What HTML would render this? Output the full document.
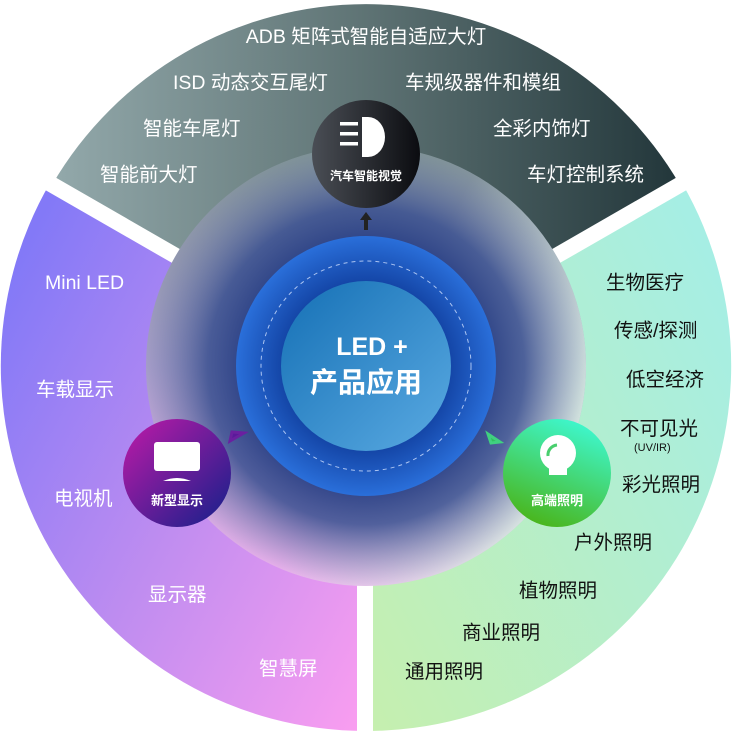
<!DOCTYPE html>
<html><head><meta charset="utf-8"><style>
html,body{margin:0;padding:0;background:#fff;width:733px;height:733px;overflow:hidden}
text{font-family:"Liberation Sans","Noto Sans CJK SC",sans-serif}
</style></head><body>
<svg width="733" height="733" viewBox="0 0 733 733" xmlns="http://www.w3.org/2000/svg">
<defs>
<linearGradient id="gTop" x1="0" y1="0" x2="1" y2="0"><stop offset="0" stop-color="#93a9ab"/><stop offset="0.5" stop-color="#5e7374"/><stop offset="1" stop-color="#22363a"/></linearGradient>
<linearGradient id="gLeft" x1="0" y1="0.2" x2="1" y2="1"><stop offset="0" stop-color="#8379f7"/><stop offset="0.5" stop-color="#c08df0"/><stop offset="1" stop-color="#fb9ef0"/></linearGradient>
<linearGradient id="gRight" x1="1" y1="0.2" x2="0" y2="1"><stop offset="0" stop-color="#a6eee4"/><stop offset="1" stop-color="#c6efae"/></linearGradient>
<linearGradient id="gBaseV" x1="0" y1="0" x2="0" y2="1"><stop offset="0" stop-color="#7e9296"/><stop offset="0.5" stop-color="#a49cc8"/><stop offset="1" stop-color="#eab0ec"/></linearGradient>
<linearGradient id="gBaseH" x1="0" y1="0.3" x2="1" y2="0.8"><stop offset="0" stop-color="#f0a0f0" stop-opacity="0"/><stop offset="0.5" stop-color="#d0e8e0" stop-opacity="0"/><stop offset="1" stop-color="#d8f0e0" stop-opacity="1"/></linearGradient>
<radialGradient id="gGlow" cx="0.5" cy="0.5" r="0.5"><stop offset="0.5" stop-color="#243a80"/><stop offset="0.72" stop-color="#3a5090" stop-opacity="0.85"/><stop offset="1" stop-color="#6070a0" stop-opacity="0"/></radialGradient>
<radialGradient id="gBlue" cx="0.5" cy="0.5" r="0.5"><stop offset="0.6" stop-color="#1140a0"/><stop offset="1" stop-color="#2a6fda"/></radialGradient>
<linearGradient id="gInner" x1="0" y1="0" x2="1" y2="1"><stop offset="0" stop-color="#1570b5"/><stop offset="1" stop-color="#5aaae2"/></linearGradient>
<linearGradient id="gNodeTop" x1="0" y1="0" x2="1" y2="0"><stop offset="0" stop-color="#4a4e55"/><stop offset="1" stop-color="#0b0c10"/></linearGradient>
<linearGradient id="gNodeL" x1="0" y1="0" x2="1" y2="1"><stop offset="0" stop-color="#c01aa8"/><stop offset="1" stop-color="#12208a"/></linearGradient>
<linearGradient id="gNodeR" x1="0.7" y1="0" x2="0.3" y2="1"><stop offset="0" stop-color="#3ef8d0"/><stop offset="1" stop-color="#4ab418"/></linearGradient>
</defs>
<path d="M366 366 L52 185 A363 363 0 0 1 680 185 Z" fill="url(#gTop)"/>
<path d="M366 366 L366 731 A365 365 0 0 1 50 183 Z" fill="url(#gLeft)"/>
<path d="M366 366 L682 183 A365 365 0 0 1 366 731 Z" fill="url(#gRight)"/>
<line x1="176" y1="256" x2="-10" y2="149" stroke="#fff" stroke-width="16"/>
<line x1="556" y1="256" x2="742" y2="149" stroke="#fff" stroke-width="16"/>
<line x1="365" y1="584" x2="365" y2="740" stroke="#fff" stroke-width="16"/>
<circle cx="366" cy="366" r="220" fill="url(#gBaseV)"/>
<circle cx="366" cy="366" r="220" fill="url(#gBaseH)"/>
<circle cx="366" cy="366" r="220" fill="url(#gGlow)"/>
<circle cx="366" cy="366" r="130" fill="url(#gBlue)"/>
<circle cx="366" cy="366" r="105" fill="none" stroke="#cfe0ff" stroke-width="1" stroke-dasharray="4 4" opacity="0.8"/>
<circle cx="366" cy="366" r="85" fill="url(#gInner)"/>
<text x="372" y="355" fill="#fff" font-size="25" font-weight="bold" text-anchor="middle">LED +</text>
<text x="366" y="392" fill="#fff" font-size="28" font-weight="bold" text-anchor="middle">产品应用</text>
<path d="M366 212 l-6 8 h4 v10 h4 v-10 h4 z" fill="#222"/>
<path d="M244 433 l-14 8 l2 -9 z" fill="#5a1a9a" stroke="#6a20a0" stroke-width="3"/>
<path d="M488 434 l12 8 l-9 1 z" fill="#30c060" stroke="#40d080" stroke-width="3"/>
<circle cx="366" cy="154" r="54" fill="url(#gNodeTop)"/>
<rect x="340" y="122" width="18" height="3.5" fill="#fff"/>
<rect x="340" y="132" width="18" height="3.5" fill="#fff"/>
<rect x="340" y="142" width="18" height="3.5" fill="#fff"/>
<path d="M362 117 h6 a17 20 0 0 1 0 40 h-6 z" fill="#fff"/>
<text x="366" y="180" fill="#fff" font-size="12" font-weight="bold" text-anchor="middle">汽车智能视觉</text>
<circle cx="177" cy="473" r="54" fill="url(#gNodeL)"/>
<rect x="154" y="442" width="46" height="29" rx="3" fill="#fff"/>
<path d="M163 481 q14 -6 28 0 z" fill="#fff"/>
<text x="177" y="505" fill="#fff" font-size="13" font-weight="bold" text-anchor="middle">新型显示</text>
<circle cx="557" cy="473" r="54" fill="url(#gNodeR)"/>
<circle cx="558" cy="453" r="18" fill="#fff"/>
<rect x="549" y="465" width="18" height="10" fill="#fff"/>
<path d="M548 456 a10 10 0 0 1 9 -11" stroke="#49cf6e" stroke-width="3" fill="none"/>
<text x="557" y="505" fill="#fff" font-size="13" font-weight="bold" text-anchor="middle">高端照明</text>
<g fill="#fff" font-size="19.5">
<text x="366" y="43" text-anchor="middle">ADB 矩阵式智能自适应大灯</text>
<text x="173" y="89">ISD 动态交互尾灯</text>
<text x="405" y="89">车规级器件和模组</text>
<text x="143" y="135">智能车尾灯</text>
<text x="493" y="135">全彩内饰灯</text>
<text x="100" y="181">智能前大灯</text>
<text x="527" y="181">车灯控制系统</text>
<text x="45" y="289">Mini LED</text>
<text x="36" y="396">车载显示</text>
<text x="54" y="505">电视机</text>
<text x="148" y="601">显示器</text>
<text x="259" y="675">智慧屏</text>
</g>
<g fill="#111" font-size="19.5">
<text x="606" y="289">生物医疗</text>
<text x="614" y="337">传感/探测</text>
<text x="626" y="386">低空经济</text>
<text x="620" y="435">不可见光</text>
<text x="634" y="451" font-size="11">(UV/IR)</text>
<text x="622" y="491">彩光照明</text>
<text x="574" y="549">户外照明</text>
<text x="519" y="597">植物照明</text>
<text x="462" y="639">商业照明</text>
<text x="405" y="678">通用照明</text>
</g>
</svg>
</body></html>
